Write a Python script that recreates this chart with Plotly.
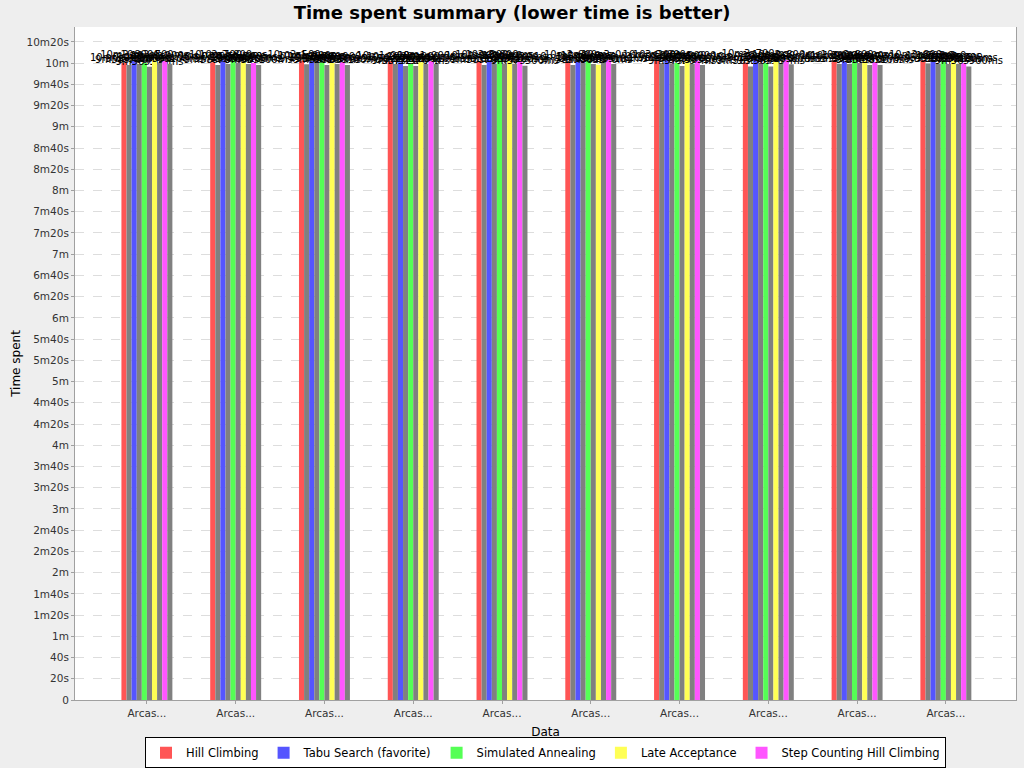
import plotly.graph_objects as go

categories = ["Arcas..."] * 10

series_names = ["Hill Climbing", "", "Tabu Search (favorite)", "", "Simulated Annealing", "",
                "Late Acceptance", "", "Step Counting Hill Climbing", ""]
series_colors = ["#FF5555", "#808080", "#5555FF", "#808080", "#55FF55", "#808080",
                 "#FFFF55", "#808080", "#FF55FF", "#808080"]

# seconds per group (rows = categories, columns = series)
group_values = [
    [600.4, 598.1, 602.8, 599.1, 600.0, 596.5, 602.7, 600.0, 601.9, 599.1],
    [600.9, 598.1, 602.7, 599.1, 602.8, 600.0, 600.9, 599.1, 600.0, 598.1],
    [602.5, 599.0, 601.9, 600.0, 600.9, 598.1, 600.0, 599.1, 600.9, 598.1],
    [601.9, 599.1, 600.9, 597.2, 599.1, 597.2, 600.9, 599.1, 601.9, 599.1],
    [601.9, 598.1, 602.8, 599.1, 602.8, 599.5, 602.0, 599.1, 601.0, 597.5],
    [601.5, 598.1, 602.8, 600.0, 602.0, 599.1, 598.5, 600.0, 603.0, 599.1],
    [603.2, 600.2, 602.8, 599.7, 600.2, 597.2, 601.9, 599.1, 601.9, 598.1],
    [600.6, 596.9, 603.7, 599.7, 600.0, 596.9, 601.9, 599.1, 602.8, 598.8],
    [601.9, 599.1, 601.9, 599.1, 602.8, 600.0, 601.9, 598.1, 600.9, 598.1],
    [602.8, 599.7, 602.0, 599.1, 602.0, 599.1, 602.0, 599.1, 600.2, 596.9],
]

tick_values = list(range(0, 621, 20))
tick_labels = ["0", "20s", "40s", "1m", "1m20s", "1m40s", "2m", "2m20s", "2m40s",
               "3m", "3m20s", "3m40s", "4m", "4m20s", "4m40s", "5m", "5m20s", "5m40s",
               "6m", "6m20s", "6m40s", "7m", "7m20s", "7m40s", "8m", "8m20s", "8m40s",
               "9m", "9m20s", "9m40s", "10m", "10m20s"]


def fmt(s):
    ms_total = int(round(s * 1000))
    m = ms_total // 60000
    rem = ms_total % 60000
    sec = rem // 1000
    ms = rem % 1000
    return f"{m}m{sec}s{ms}ms"


x_idx = list(range(len(categories)))
fig = go.Figure()
for j, (name, color) in enumerate(zip(series_names, series_colors)):
    vals = [row[j] for row in group_values]
    fig.add_trace(go.Bar(
        x=x_idx, y=vals, name=name if name else f"s{j}",
        marker=dict(color=color, line=dict(width=0)),
        showlegend=bool(name),
        text=[fmt(v) for v in vals], textposition="outside",
        textfont=dict(family="DejaVu Sans", size=10, color="#000000"),
        constraintext="none", cliponaxis=False, textangle=0,
    ))

fig.update_layout(
    width=1024, height=768,
    barmode="group", bargap=0.426, bargroupgap=0,
    paper_bgcolor="#EEEEEE", plot_bgcolor="#FFFFFF",
    margin=dict(l=75, r=8, t=27, b=68, autoexpand=False),
    title=dict(text="<b>Time spent summary (lower time is better)</b>", x=0.5, xanchor="center",
               y=0.984, yanchor="middle",
               font=dict(family="DejaVu Sans", size=18, color="#000000")),
    font=dict(family="DejaVu Sans", size=11, color="#333333"),
    legend=dict(orientation="h", x=0.5, xanchor="center", y=-0.0785, yanchor="middle",
                bgcolor="#FFFFFF", bordercolor="#000000", borderwidth=1,
                font=dict(family="DejaVu Sans", size=11.5, color="#000000"),
                itemwidth=30, tracegroupgap=0),
    xaxis=dict(tickmode="array", tickvals=x_idx, ticktext=categories,
               range=[-0.81, len(categories) - 1 + 0.79], automargin=False,
               showgrid=False, showline=True, linecolor="#A0A0A0", linewidth=1,
               ticks="outside", ticklen=3, tickcolor="#A0A0A0",
               tickfont=dict(size=10.5, color="#333333"),
               title=dict(text="Data", font=dict(size=12, color="#000000"), standoff=10)),
    yaxis=dict(range=[0, 634], tickmode="array", tickvals=tick_values, ticktext=tick_labels,
               automargin=False,
               showgrid=True, gridcolor="#DDDDDD", griddash="dash", gridwidth=1,
               showline=True, linecolor="#A0A0A0", linewidth=1, mirror=True,
               ticks="outside", ticklen=3, tickcolor="#A0A0A0",
               tickfont=dict(size=10.5, color="#333333"), zeroline=False,
               title=dict(text="Time spent", font=dict(size=12, color="#000000"), standoff=3)),
)

fig.write_html("out.html")
